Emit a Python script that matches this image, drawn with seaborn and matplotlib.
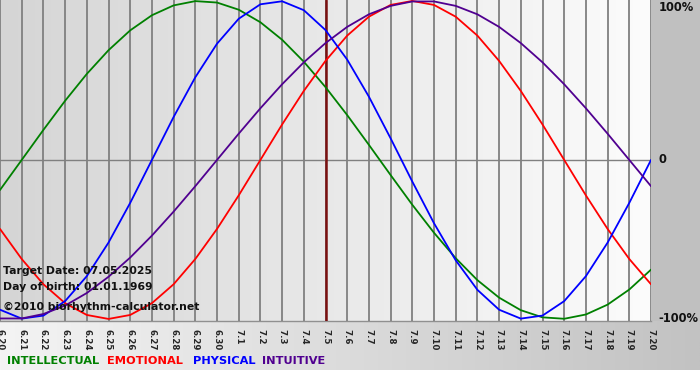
import numpy as np
import pandas as pd
import matplotlib
matplotlib.use("Agg")
import matplotlib.pyplot as plt
import seaborn as sns
from matplotlib.colors import LinearSegmentedColormap
from matplotlib.patches import Rectangle
from matplotlib.transforms import blended_transform_factory

# ---------------- data ----------------
days = ["6.20", "6.21", "6.22", "6.23", "6.24", "6.25", "6.26", "6.27", "6.28", "6.29", "6.30",
        "7.1", "7.2", "7.3", "7.4", "7.5", "7.6", "7.7", "7.8", "7.9", "7.10",
        "7.11", "7.12", "7.13", "7.14", "7.15", "7.16", "7.17", "7.18", "7.19", "7.20"]

intellectual = [-0.189, 0.0, 0.189, 0.372, 0.541, 0.690, 0.815, 0.910, 0.972, 0.999, 0.990,
                0.945, 0.866, 0.756, 0.618, 0.458, 0.282, 0.095, -0.095, -0.282, -0.458,
                -0.618, -0.756, -0.866, -0.945, -0.990, -0.999, -0.972, -0.910, -0.815, -0.690]
emotional = [-0.434, -0.623, -0.782, -0.901, -0.975, -1.0, -0.975, -0.901, -0.782, -0.623, -0.434,
             -0.223, 0.0, 0.223, 0.434, 0.623, 0.782, 0.901, 0.975, 1.0, 0.975,
             0.901, 0.782, 0.623, 0.434, 0.223, 0.0, -0.223, -0.434, -0.623, -0.782]
physical = [-0.942, -0.998, -0.979, -0.888, -0.731, -0.520, -0.270, 0.0, 0.270, 0.520, 0.731,
            0.888, 0.979, 0.998, 0.942, 0.817, 0.631, 0.398, 0.136, -0.136, -0.398,
            -0.631, -0.817, -0.942, -0.998, -0.979, -0.888, -0.731, -0.520, -0.270, 0.0]
intuitive = [-0.997, -0.997, -0.969, -0.916, -0.837, -0.735, -0.614, -0.476, -0.325, -0.165, 0.0,
             0.165, 0.325, 0.476, 0.614, 0.735, 0.837, 0.916, 0.969, 0.997, 0.997,
             0.969, 0.916, 0.837, 0.735, 0.614, 0.476, 0.325, 0.165, 0.0, -0.165]

series_names = ["INTELLECTUAL", "EMOTIONAL", "PHYSICAL", "INTUITIVE"]
series_colors = ["#008000", "#ff0000", "#0000ff", "#500090"]
target_day = "7.5"
info_lines = ["Target Date: 07.05.2025", "Day of birth: 01.01.1969",
              "\u00a92010 biorhythm-calculator.net"]
right_values = [1.0, 0.0, -1.0]
right_labels = ["100%", "0", "-100%"]

# long-form table for seaborn
x_idx = list(range(len(days)))
df = pd.concat([
    pd.DataFrame({"day": x_idx, "value": vals, "series": name})
    for name, vals in zip(series_names, [intellectual, emotional, physical, intuitive])
], ignore_index=True)

# ---------------- figure ----------------
sns.set_style("white")
plt.rcParams["font.family"] = ["DejaVu Sans"]

W, H = 700, 380
fig = plt.figure(figsize=(W / 100, H / 100), dpi=100)
fig.patch.set_facecolor("white")

# background axes in pixel coordinates
bg = fig.add_axes([0, 0, 1, 1], zorder=-5)
bg.axis("off")
grad = np.linspace(0, 1, 256)[None, :]
cmap_bottom = LinearSegmentedColormap.from_list("b", ["#f4f4f4", "#c2c2c2"])
bg.imshow(grad, extent=(0, W, 370, 321), aspect="auto", cmap=cmap_bottom,
          interpolation="bilinear")
bg.add_patch(Rectangle((651, 0), 49, 321, color="#c0c0c0", lw=0))
bg.set_xlim(0, W)
bg.set_ylim(H, 0)

PLOT_R = 651
PLOT_B = 321
ax = fig.add_axes([0, (H - PLOT_B) / H, PLOT_R / W, PLOT_B / H])
ax.patch.set_alpha(0)

ylo, yhi = -1.013, 1.006
cmap_plot = LinearSegmentedColormap.from_list("p", ["#d5d5d5", "#fcfcfc"])
ax.imshow(grad, extent=(0, len(days) - 1, ylo, yhi), aspect="auto", cmap=cmap_plot,
          interpolation="bilinear", zorder=0)

sns.lineplot(data=df, x="day", y="value", hue="series", hue_order=series_names,
             palette=dict(zip(series_names, series_colors)), legend=False,
             linewidth=1.3, ax=ax, zorder=4, estimator=None, sort=False)

ax.set_xlim(0, len(days) - 1)
ax.set_ylim(ylo, yhi)
ax.set_xticks(x_idx)
ax.set_xticklabels(days, rotation=270, fontsize=6.2, fontweight="bold")
ax.tick_params(axis="x", length=4, width=1, color="#808080", pad=1.5)
ax.set_yticks([])
ax.set_xlabel("")
ax.set_ylabel("")
ax.grid(axis="x", color="#808080", linewidth=1.3, zorder=1)
ax.set_axisbelow(False)
ax.axhline(0, color="#808080", linewidth=1.0, zorder=2)
ax.axvline(days.index(target_day), color="#7a1010", linewidth=1.8, zorder=3)
for s in ["top", "left", "right"]:
    ax.spines[s].set_visible(False)
ax.spines["bottom"].set_color("#909090")
ax.spines["bottom"].set_linewidth(1.0)

# right side labels
tr = blended_transform_factory(ax.transAxes, ax.transData)
for v, lab in zip(right_values, right_labels):
    va = "top" if v > 0 else "center"
    ax.text(1.012, v, lab, transform=tr, ha="left", va=va, fontsize=8.3,
            fontweight="bold", color="#111111", clip_on=False)

# info text
for i, (line, ypix) in enumerate(zip(info_lines, [271, 287, 307])):
    fig.text(3 / W, 1 - ypix / H, line, ha="left", va="center", fontsize=7.8,
             fontweight="bold", color="#111111", zorder=10)

# legend words
legend_x = [7, 107, 193, 262]
for name, col, xp in zip(series_names, series_colors, legend_x):
    fig.text(xp / W, 1 - 361 / H, name, ha="left", va="center", fontsize=8.2,
             fontweight="bold", color=col)

fig.savefig("out.png", dpi=100, facecolor=fig.get_facecolor())
